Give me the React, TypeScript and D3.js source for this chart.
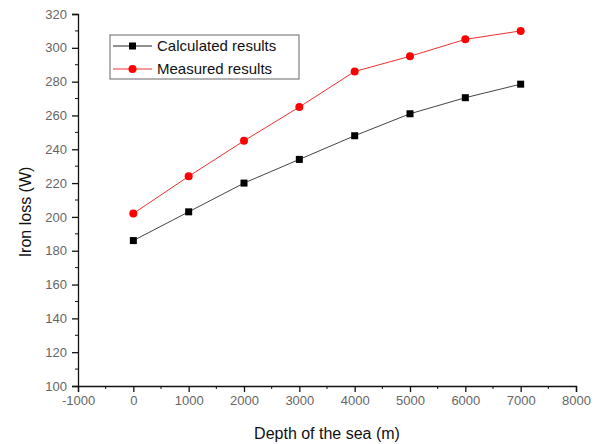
import React, { useEffect, useRef } from 'react';
import * as d3 from 'd3';

const depths = [0, 1000, 2000, 3000, 4000, 5000, 6000, 7000];
const calculated = [186, 203, 220, 234, 248, 261, 270.5, 278.5];
const measured = [202, 224, 245, 265, 286, 295, 305, 310];
const xTicks = [-1000, 0, 1000, 2000, 3000, 4000, 5000, 6000, 7000, 8000];
const yTicks = [100, 120, 140, 160, 180, 200, 220, 240, 260, 280, 300, 320];

const App = () => {
  const ref = useRef<SVGSVGElement>(null);

  useEffect(() => {
    const svg = d3.select(ref.current);
    svg.selectAll('*').remove();
    const font = 'Liberation Sans, Arial, sans-serif';

    const x = d3.scaleLinear().domain([-1000, 8000]).range([78, 576]);
    const y = d3.scaleLinear().domain([100, 320]).range([386, 14]);

    // minor ticks
    const xMinor = d3.range(-500, 8000, 1000);
    const yMinor = d3.range(110, 320, 20);

    const xAxis = svg.append('g')
      .attr('transform', `translate(0,${y(100)})`)
      .call(d3.axisBottom(x).tickValues(xTicks).tickSize(6).tickPadding(4).tickFormat(d => String(d)));
    xAxis.append('g').selectAll('line').data(xMinor).enter().append('line')
      .attr('x1', d => x(d)).attr('x2', d => x(d)).attr('y1', 0).attr('y2', 3)
      .attr('stroke', '#111');

    const yAxis = svg.append('g')
      .attr('transform', `translate(${x(-1000)},0)`)
      .call(d3.axisLeft(y).tickValues(yTicks).tickSize(6).tickPadding(5));
    yAxis.append('g').selectAll('line').data(yMinor).enter().append('line')
      .attr('y1', d => y(d)).attr('y2', d => y(d)).attr('x1', 0).attr('x2', -3)
      .attr('stroke', '#111');

    [xAxis, yAxis].forEach(a => {
      a.select('.domain').attr('stroke', '#111').attr('stroke-width', 1.3);
      a.selectAll('.tick line').attr('stroke', '#111').attr('stroke-width', 1.3);
      a.selectAll('.tick text').attr('fill', '#666').style('font-family', font).style('font-size', '13px');
    });

    const line = d3.line<number>().x((d, i) => x(depths[i])).y(d => y(d));

    svg.append('path').datum(calculated).attr('d', line)
      .attr('fill', 'none').attr('stroke', '#444').attr('stroke-width', 1);
    svg.append('path').datum(measured).attr('d', line)
      .attr('fill', 'none').attr('stroke', '#f03030').attr('stroke-width', 1);

    svg.selectAll('.sq').data(calculated).enter().append('rect')
      .attr('x', (d, i) => x(depths[i]) - 3.5).attr('y', d => y(d) - 3.5)
      .attr('width', 7).attr('height', 7).attr('fill', '#000');
    svg.selectAll('.ci').data(measured).enter().append('circle')
      .attr('cx', (d, i) => x(depths[i])).attr('cy', d => y(d))
      .attr('r', 4).attr('fill', '#f00');

    // legend
    const lg = svg.append('g');
    lg.append('rect').attr('x', 110).attr('y', 35).attr('width', 189).attr('height', 44)
      .attr('fill', 'white').attr('stroke', '#666').attr('stroke-width', 1);
    lg.append('line').attr('x1', 113).attr('x2', 152).attr('y1', 46).attr('y2', 46)
      .attr('stroke', '#222');
    lg.append('rect').attr('x', 129).attr('y', 42.5).attr('width', 7).attr('height', 7).attr('fill', '#000');
    lg.append('line').attr('x1', 113).attr('x2', 152).attr('y1', 69).attr('y2', 69)
      .attr('stroke', '#f03030');
    lg.append('circle').attr('cx', 132.5).attr('cy', 69).attr('r', 4).attr('fill', '#f00');
    lg.append('text').attr('x', 157).attr('y', 51).text('Calculated results')
      .style('font-family', font).style('font-size', '15px').attr('fill', '#111');
    lg.append('text').attr('x', 157).attr('y', 74).text('Measured results')
      .style('font-family', font).style('font-size', '15px').attr('fill', '#111');

    svg.append('text').attr('x', 327).attr('y', 439).attr('text-anchor', 'middle')
      .text('Depth of the sea (m)')
      .style('font-family', font).style('font-size', '16px').attr('fill', '#111');
    svg.append('text').attr('transform', 'translate(31,212) rotate(-90)').attr('text-anchor', 'middle')
      .text('Iron loss (W)')
      .style('font-family', font).style('font-size', '16px').attr('fill', '#111');
  }, []);

  return (
    <svg ref={ref} width={600} height={444}
      style={{ position: 'absolute', left: 0, top: 0, background: 'white' }} />
  );
};

export default App;
